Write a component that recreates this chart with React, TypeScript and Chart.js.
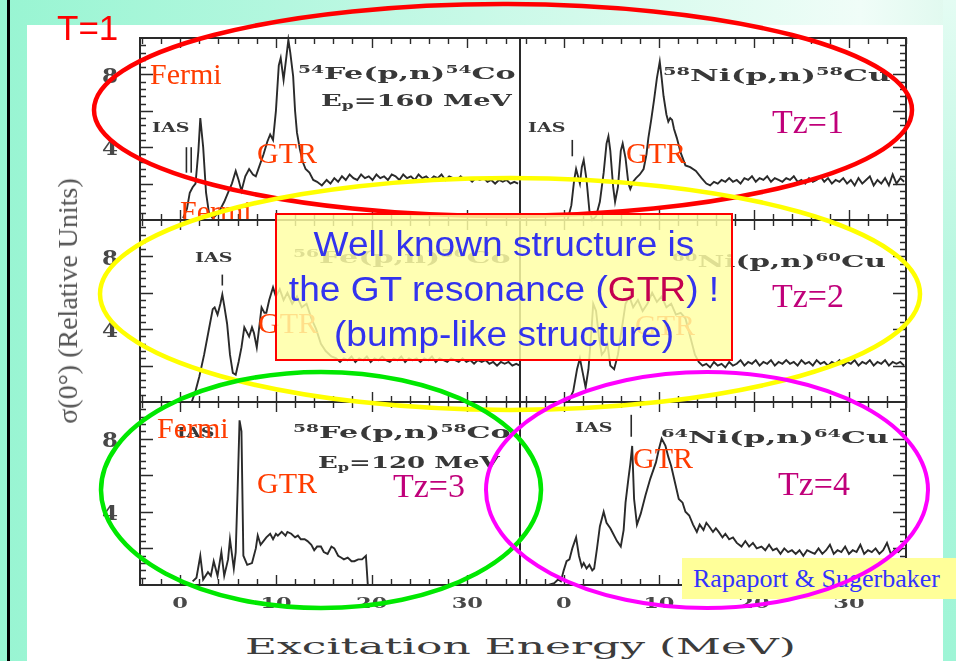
import React, { useEffect, useLayoutEffect, useRef, useState } from "react";
import { Chart, registerables } from "chart.js";
Chart.register(...registerables);

type Pt = [number, number];

// ---- spectra: [excitation energy (MeV), sigma(0 deg) relative units] ----
const FE54: Pt[] = [[0.3,0.1],[0.7,0.6],[1.0,1.5],[1.3,1.8],[1.6,2.0],[1.9,3.8],[2.1,5.6],[2.4,4.0],[2.7,1.5],[3.0,0.4],[3.4,0.1],[3.8,0.3],[4.2,0.6],[4.6,1.0],[5.0,1.5],[5.4,2.0],[5.8,2.7],[6.1,2.2],[6.4,1.6],[6.8,2.4],[7.2,2.8],[7.6,2.5],[7.9,2.4],[8.3,3.0],[8.7,3.6],[9.1,4.3],[9.4,4.7],[9.7,4.4],[10.0,6.0],[10.3,8.5],[10.5,8.9],[10.8,7.7],[11.1,9.0],[11.3,9.9],[11.5,9.2],[11.8,7.9],[12.0,6.0],[12.2,4.8],[12.5,3.9],[12.8,3.2],[13.1,2.8],[13.5,2.6],[13.9,2.2],[14.3,2.1],[14.8,1.9],[15.3,2.2],[15.7,2.0],[16.1,2.3],[16.5,2.1],[16.9,2.4],[17.3,2.2],[17.7,2.5],[18.1,2.3],[18.5,2.2],[18.9,2.5],[19.3,2.3],[19.7,2.4],[20.1,2.2],[20.5,2.5],[20.9,2.3],[21.3,2.4],[21.7,2.2],[22.1,2.5],[22.5,2.4],[22.9,2.2],[23.3,2.5],[23.7,2.3],[24.1,2.4],[24.5,2.2],[24.9,2.5],[25.3,2.3],[25.7,2.4],[26.1,2.2],[26.5,2.4],[26.9,2.3],[27.3,2.5],[27.7,2.2],[28.1,2.4],[28.5,2.3],[28.9,2.2],[29.3,2.4],[29.7,2.2],[30.1,2.3],[30.5,2.1],[30.9,2.3],[31.3,2.2],[31.7,2.3],[32.1,2.1],[32.5,2.2],[32.9,2.0],[33.3,2.2],[33.7,2.1],[34.1,2.2],[34.5,2.0],[34.9,2.1],[35.3,2.0]];

const NI58: Pt[] = [[0.4,0.0],[0.8,0.8],[1.1,2.2],[1.3,2.8],[1.5,2.4],[1.7,2.0],[1.9,2.9],[2.1,3.3],[2.4,2.2],[2.7,0.5],[3.0,0.0],[3.4,0.2],[3.8,1.0],[4.2,2.6],[4.5,4.2],[4.7,4.6],[4.9,3.8],[5.2,1.8],[5.4,1.0],[5.7,1.8],[6.0,3.8],[6.2,4.2],[6.5,3.4],[6.8,2.0],[7.0,1.7],[7.3,2.1],[7.6,2.3],[8.0,2.5],[8.4,2.8],[8.7,3.6],[8.9,4.5],[9.2,5.5],[9.5,6.6],[9.8,7.8],[10.1,8.7],[10.3,7.8],[10.5,6.8],[10.8,5.8],[11.0,5.4],[11.2,5.6],[11.4,5.5],[11.6,5.0],[11.9,4.5],[12.3,3.7],[12.8,3.0],[13.3,2.9],[13.9,2.7],[14.5,2.3],[15.0,2.0],[15.4,1.9],[15.8,2.1],[16.2,2.0],[16.6,2.2],[17.0,2.1],[17.4,2.3],[17.8,2.1],[18.2,2.2],[18.6,2.0],[19.0,2.3],[19.4,2.2],[19.8,2.4],[20.2,2.1],[20.6,2.3],[21.0,2.2],[21.4,2.4],[21.8,2.1],[22.2,2.3],[22.6,2.2],[23.0,2.1],[23.4,2.3],[23.8,2.2],[24.2,2.4],[24.6,2.1],[25.0,2.2],[25.4,2.0],[25.8,2.3],[26.2,2.1],[26.6,2.2],[27.0,2.4],[27.4,2.1],[27.8,2.3],[28.2,2.0],[28.6,2.2],[29.0,2.1],[29.4,2.3],[29.8,2.0],[30.2,2.2],[30.6,1.9],[31.0,2.3],[31.4,2.0],[31.8,2.2],[32.2,2.4],[32.6,1.9],[33.0,2.2],[33.4,2.0],[33.8,2.3],[34.2,1.9],[34.6,2.5],[35.0,2.0],[35.4,2.3],[35.8,2.1]];

const FE56: Pt[] = [[1.2,0.0],[1.6,0.6],[2.0,1.4],[2.5,2.6],[3.0,4.0],[3.4,5.1],[3.6,5.2],[3.9,4.8],[4.2,5.4],[4.4,5.9],[4.6,5.3],[4.9,4.3],[5.2,2.6],[5.5,1.6],[5.8,1.5],[6.1,2.2],[6.4,3.0],[6.7,4.1],[7.0,3.8],[7.2,3.6],[7.5,4.1],[7.7,3.8],[8.0,3.0],[8.3,4.3],[8.5,5.2],[8.8,4.9],[9.0,4.9],[9.3,5.6],[9.7,6.3],[10.0,5.8],[10.4,6.2],[10.8,5.6],[11.2,6.0],[11.7,5.4],[12.2,5.8],[12.7,5.2],[13.2,5.4],[13.7,4.6],[14.2,4.0],[14.7,3.2],[15.2,2.8],[15.8,2.5],[16.3,2.4],[16.7,2.2],[17.1,2.4],[17.5,2.3],[17.9,2.5],[18.3,2.2],[18.7,2.4],[19.1,2.3],[19.5,2.5],[19.9,2.2],[20.3,2.4],[20.7,2.3],[21.1,2.5],[21.5,2.3],[21.9,2.2],[22.3,2.4],[22.7,2.3],[23.1,2.5],[23.5,2.2],[23.9,2.4],[24.3,2.3],[24.7,2.4],[25.1,2.2],[25.5,2.4],[25.9,2.3],[26.3,2.5],[26.7,2.2],[27.1,2.4],[27.5,2.3],[27.9,2.2],[28.3,2.4],[28.7,2.3],[29.1,2.2],[29.5,2.4],[29.9,2.2],[30.3,2.3],[30.7,2.1],[31.1,2.3],[31.5,2.2],[31.9,2.3],[32.3,2.1],[32.7,2.2],[33.1,2.0],[33.5,2.2],[33.9,2.1],[34.3,2.2],[34.7,2.0],[35.1,2.1],[35.5,2.0]];

const NI60: Pt[] = [[0.5,0.0],[1.0,0.6],[1.4,1.8],[1.7,2.4],[2.0,1.6],[2.3,0.8],[2.6,1.8],[2.9,3.8],[3.1,5.4],[3.4,5.0],[3.7,3.6],[4.0,2.6],[4.3,2.8],[4.6,3.2],[4.9,2.0],[5.3,1.8],[5.7,2.6],[6.1,4.0],[6.5,5.4],[6.9,5.8],[7.3,5.2],[7.8,5.6],[8.3,5.0],[8.8,5.4],[9.3,6.0],[9.8,5.5],[10.3,5.8],[10.8,5.2],[11.3,5.4],[11.8,4.8],[12.3,4.9],[12.8,4.6],[13.3,3.6],[13.8,2.6],[14.2,2.2],[14.6,2.0],[15.0,2.1],[15.4,1.9],[15.8,2.2],[16.2,2.0],[16.6,2.1],[17.0,1.9],[17.4,2.2],[17.8,2.0],[18.2,2.1],[18.6,2.3],[19.0,2.0],[19.4,2.2],[19.8,2.1],[20.2,2.3],[20.6,2.0],[21.0,2.2],[21.4,2.1],[21.8,2.3],[22.2,2.0],[22.6,2.2],[23.0,2.1],[23.4,2.3],[23.8,2.1],[24.2,2.2],[24.6,2.0],[25.0,2.3],[25.4,2.1],[25.8,2.2],[26.2,2.0],[26.6,2.3],[27.0,2.1],[27.4,2.2],[27.8,2.0],[28.2,2.2],[28.6,2.1],[29.0,2.3],[29.4,2.0],[29.8,2.2],[30.2,2.1],[30.6,2.3],[31.0,2.0],[31.4,2.2],[31.8,2.1],[32.2,2.3],[32.6,2.0],[33.0,2.2],[33.4,2.1],[33.8,2.3],[34.2,2.0],[34.6,2.2],[35.0,2.1],[35.4,2.2],[35.8,2.0]];

const FE58: Pt[] = [[1.3,0.2],[1.7,0.4],[2.1,1.6],[2.4,0.3],[2.9,0.7],[3.2,0.5],[3.5,1.3],[3.9,0.5],[4.3,1.8],[4.6,0.5],[5.0,1.4],[5.2,2.5],[5.6,0.9],[5.8,1.8],[6.0,5.2],[6.2,9.0],[6.4,8.4],[6.6,1.6],[7.0,1.1],[7.5,1.2],[7.9,2.0],[8.1,2.7],[8.4,2.2],[8.7,2.4],[9.0,2.6],[9.4,2.8],[9.7,2.5],[10.0,2.8],[10.2,2.7],[10.6,2.9],[11.0,2.7],[11.2,2.9],[11.6,2.8],[12.0,2.6],[12.3,2.7],[12.6,2.5],[13.0,2.5],[13.3,2.4],[13.7,2.2],[14.0,1.9],[14.3,2.1],[14.7,2.1],[15.0,1.8],[15.4,1.7],[15.8,2.1],[16.1,2.0],[16.5,1.6],[16.8,1.5],[17.1,1.4],[17.5,1.5],[17.9,1.3],[18.2,1.3],[18.6,1.4],[19.0,1.4],[19.4,1.6],[19.6,0.0]];

const NI64: Pt[] = [[-1.6,0.0],[-1.0,0.1],[-0.6,0.3],[-0.3,0.2],[0.0,0.8],[0.3,1.3],[0.6,1.4],[0.9,2.0],[1.3,2.6],[1.6,1.6],[1.9,1.0],[2.1,1.2],[2.4,0.9],[2.7,1.1],[3.0,0.8],[3.2,0.9],[3.5,2.0],[3.8,3.2],[4.2,4.0],[4.5,3.4],[4.9,3.1],[5.2,2.8],[5.6,2.4],[6.0,2.1],[6.3,3.0],[6.5,4.5],[6.8,5.8],[7.0,6.6],[7.2,7.6],[7.4,4.7],[7.7,3.3],[8.1,3.9],[8.6,4.9],[9.1,5.8],[9.7,6.7],[10.0,7.4],[10.3,8.0],[10.7,7.6],[11.0,7.0],[11.3,6.5],[11.7,5.6],[12.1,4.7],[12.5,4.5],[12.8,4.0],[13.2,3.8],[13.6,3.3],[14.0,2.9],[14.3,3.3],[14.7,3.0],[15.0,3.4],[15.3,3.2],[15.7,2.9],[16.0,3.1],[16.3,2.9],[16.7,2.6],[17.0,2.8],[17.4,2.5],[17.8,2.6],[18.2,2.3],[18.7,2.1],[19.1,2.4],[19.5,2.1],[19.9,2.3],[20.3,2.0],[20.8,2.1],[21.2,1.9],[21.6,2.2],[22.0,1.9],[22.4,2.0],[22.8,1.7],[23.2,2.0],[23.6,1.8],[24.0,1.9],[24.4,1.7],[24.8,1.9],[25.2,1.6],[25.6,1.9],[26.0,1.8],[26.4,1.7],[26.8,2.0],[27.2,1.7],[27.6,1.9],[28.0,2.2],[28.4,1.7],[28.8,1.9],[29.2,1.8],[29.6,2.1],[30.0,1.7],[30.4,1.9],[30.8,1.8],[31.2,2.2],[31.6,1.7],[32.0,1.9],[32.4,1.8],[32.8,2.0],[33.2,1.7],[33.6,1.9],[34.0,2.3],[34.4,1.7],[34.8,1.9],[35.2,1.8],[35.6,2.0]];

// IAS marker strokes
const IAS_FE54_A: Pt[] = [[0.65,2.6],[0.65,4.0]];
const IAS_FE54_B: Pt[] = [[1.15,2.6],[1.15,4.0]];
const IAS_NI58: Pt[] = [[0.9,3.5],[0.9,4.4]];
const IAS_FE56: Pt[] = [[4.4,6.4],[4.4,7.0]];
const IAS_NI64: Pt[] = [[7.1,8.1],[7.1,9.3]];

const X_TICKS = [0, 10, 20, 30];
const Y_TICKS = [4, 8];
const Y_RANGE = [0, 10];
const X_RANGE = [[-4.2, 35.5], [-4.6, 36.0]];

// ---- layout (pixels) ----
const COL_X = [[140, 520], [520, 906]];
const ROW_Y = [[38, 220], [220, 402], [402, 585]];
const ML = 70, MT = 10, MR = 10, MB = 40;
const INK = "#2a2a2a";
const SCAN_FONT = '"DejaVu Serif", serif';

interface PanelCfg { data: Pt[]; marks: Pt[][]; col: number; row: number; }
const PANELS: PanelCfg[] = [
  { data: FE54, marks: [IAS_FE54_A, IAS_FE54_B], col: 0, row: 0 },
  { data: NI58, marks: [IAS_NI58], col: 1, row: 0 },
  { data: FE56, marks: [IAS_FE56], col: 0, row: 1 },
  { data: NI60, marks: [], col: 1, row: 1 },
  { data: FE58, marks: [], col: 0, row: 2 },
  { data: NI64, marks: [IAS_NI64], col: 1, row: 2 },
];

function framePlugin(col: number, row: number) {
  return {
    id: "frameTicks",
    afterDatasetsDraw(chart: any) {
      const { ctx, chartArea: a } = chart;
      const x = chart.scales.x, y = chart.scales.y;
      ctx.save();
      ctx.strokeStyle = INK;
      ctx.lineWidth = 2;
      ctx.strokeRect(a.left, a.top, a.right - a.left, a.bottom - a.top);
      ctx.lineWidth = 1.4;
      ctx.beginPath();
      for (let v = Math.ceil(x.min / 2) * 2; v <= x.max; v += 2) {
        const px = Math.round(x.getPixelForValue(v)) + 0.5;
        const len = v % 10 === 0 ? 10 : 6;
        ctx.moveTo(px, a.bottom); ctx.lineTo(px, a.bottom - len);
        ctx.moveTo(px, a.top); ctx.lineTo(px, a.top + len);
      }
      for (let i = 1; i < 25; i++) {
        const py = Math.round(y.getPixelForValue(i * 0.4)) + 0.5;
        const len = i % 5 === 0 ? 13 : 6;
        if (col === 0) { ctx.moveTo(a.left, py); ctx.lineTo(a.left + len, py); }
        else { ctx.moveTo(a.right, py); ctx.lineTo(a.right - len, py); }
      }
      ctx.stroke();
      ctx.fillStyle = "#484848";
      if (row === 2) {
        ctx.font = "bold 15px " + SCAN_FONT;
        ctx.textAlign = "center";
        ctx.textBaseline = "alphabetic";
        X_TICKS.forEach((v) => {
          ctx.save();
          ctx.translate(x.getPixelForValue(v), a.bottom + 23);
          ctx.scale(1.5, 1);
          ctx.fillText(String(v), 0, 0);
          ctx.restore();
        });
      }
      if (col === 0) {
        ctx.font = "bold 20px " + SCAN_FONT;
        ctx.textAlign = "right";
        ctx.textBaseline = "middle";
        Y_TICKS.forEach((v) => {
          ctx.save();
          ctx.translate(a.left - 22, y.getPixelForValue(v) + 3);
          ctx.scale(1.15, 1);
          ctx.fillText(String(v), 0, 0);
          ctx.restore();
        });
      }
      ctx.restore();
    },
  };
}

function SpectrumPanel({ cfg }: { cfg: PanelCfg }) {
  const ref = useRef<HTMLCanvasElement>(null);
  const [x0, x1] = COL_X[cfg.col];
  const [y0, y1] = ROW_Y[cfg.row];
  const W = x1 - x0 + ML + MR;
  const H = y1 - y0 + MT + MB;
  useEffect(() => {
    const range = X_RANGE[cfg.col];
    const toXY = (pts: Pt[]) => pts.map(([e, s]) => ({ x: e, y: s }));
    const chart = new Chart(ref.current as HTMLCanvasElement, {
      type: "line",
      data: {
        datasets: [
          { data: toXY(cfg.data), borderColor: INK, borderWidth: 1.9, pointRadius: 0, tension: 0, fill: false, clip: 4 } as any,
          ...cfg.marks.map((m) => ({ data: toXY(m), borderColor: INK, borderWidth: 1.6, pointRadius: 0, fill: false } as any)),
        ],
      },
      options: {
        animation: false,
        responsive: false,
        events: [],
        layout: { padding: { left: 0, top: MT, right: MR, bottom: 0 } },
        plugins: { legend: { display: false }, tooltip: { enabled: false } },
        scales: {
          x: {
            type: "linear", min: range[0], max: range[1],
            grid: { display: false }, border: { display: false }, ticks: { display: false },
            afterFit: (s: any) => { s.height = MB; },
          },
          y: {
            type: "linear", min: Y_RANGE[0], max: Y_RANGE[1],
            grid: { display: false }, border: { display: false }, ticks: { display: false },
            afterFit: (s: any) => { s.width = ML; },
          },
        },
      } as any,
      plugins: [framePlugin(cfg.col, cfg.row)],
    });
    return () => chart.destroy();
  }, []);
  return (
    <canvas
      ref={ref}
      width={W}
      height={H}
      style={{ position: "absolute", left: x0 - ML, top: y0 - MT, width: W, height: H }}
    />
  );
}

const FONTS: Record<string, { family: string; k: number }> = {
  scan: { family: SCAN_FONT, k: 0.846 },
  serif: { family: '"Liberation Serif", serif', k: 0.837 },
  sans: { family: '"Liberation Sans", Arial, sans-serif', k: 0.847 },
};

// Text placed by its baseline; optionally stretched horizontally to a target width.
function T(props: {
  x: number; base: number; size: number; font: string; color: string;
  bold?: boolean; w?: number; children: React.ReactNode;
}) {
  const f = FONTS[props.font];
  const ref = useRef<HTMLDivElement>(null);
  const [sx, setSx] = useState(1);
  useLayoutEffect(() => {
    if (props.w && ref.current && ref.current.offsetWidth) setSx(props.w / ref.current.offsetWidth);
  }, []);
  return (
    <div
      ref={ref}
      style={{
        position: "absolute", left: props.x, top: props.base - f.k * props.size,
        fontFamily: f.family, fontSize: props.size, lineHeight: 1, color: props.color,
        fontWeight: props.bold ? "bold" : "normal", whiteSpace: "nowrap",
        transform: `scaleX(${sx})`, transformOrigin: "0 0",
      }}
    >
      {props.children}
    </div>
  );
}

const Sup = ({ c }: { c: string }) => (
  <span style={{ fontSize: "0.62em", position: "relative", top: "-0.55em" }}>{c}</span>
);
const Sub = ({ c }: { c: string }) => (
  <span style={{ fontSize: "0.62em", position: "relative", top: "0.35em" }}>{c}</span>
);

const RED_ORANGE = "#ff3c00";
const TZ = "#c0007a";
const LABEL = "#383838";

function Reaction({ x, base, w, a, t, b, r }: { x: number; base: number; w: number; a: string; t: string; b: string; r: string }) {
  return (
    <T x={x} base={base} size={17} font="scan" color={LABEL} bold w={w}>
      <Sup c={a} />{t}(p,n)<Sup c={b} />{r}
    </T>
  );
}
function Ep({ x, base, w, v }: { x: number; base: number; w: number; v: string }) {
  return (
    <T x={x} base={base} size={17} font="scan" color={LABEL} bold w={w}>
      E<Sub c="p" />={v} MeV
    </T>
  );
}
const Ias = ({ x, base }: { x: number; base: number }) => (
  <T x={x} base={base} size={12} font="scan" color={LABEL} bold w={38}>IAS</T>
);
const Red = ({ x, base, s }: { x: number; base: number; s: string }) => (
  <T x={x} base={base} size={30} font="serif" color={RED_ORANGE}>{s}</T>
);
const Tz = ({ x, base, s }: { x: number; base: number; s: string }) => (
  <T x={x} base={base} size={34} font="serif" color={TZ}>{s}</T>
);

function BoxLine({ base, children }: { base: number; children: React.ReactNode }) {
  const size = 35;
  return (
    <div
      style={{
        position: "absolute", left: 275, width: 458, top: base - FONTS.sans.k * size,
        textAlign: "center", fontFamily: FONTS.sans.family, fontSize: size, lineHeight: 1,
        color: "#3333ee", whiteSpace: "nowrap", transform: "scaleX(1.06)", transformOrigin: "50% 0",
      }}
    >
      {children}
    </div>
  );
}

export default function App() {
  return (
    <div
      style={{
        position: "fixed", left: 0, top: 0, width: 956, height: 661, overflow: "hidden",
        background: "linear-gradient(90deg, #98f5d2 0%, #b4f7df 30%, #dcfbef 70%, #f0fdf8 90%, #dff9ee 100%)",
      }}
    >
      <div style={{ position: "absolute", left: 943, top: 0, width: 13, height: 661, background: "linear-gradient(180deg, #e4fcf3 0%, #b8f7e0 40%, #9ef5d6 100%)" }} />
      <div style={{ position: "absolute", left: 27, top: 25, width: 916, height: 636, background: "#ffffff" }} />
      <div style={{ position: "absolute", left: 7, top: 0, width: 3, height: 661, background: "#000" }} />

      {PANELS.map((p, i) => (
        <SpectrumPanel key={i} cfg={p} />
      ))}

      {/* axis titles */}
      <T x={245} base={654} size={23} font="scan" color="#3c3c3c" w={550}>Excitation Energy (MeV)</T>
      <div
        style={{
          position: "absolute", left: 68, top: 301, transform: "translate(-50%, -50%) rotate(-90deg)",
          fontFamily: FONTS.serif.family, fontSize: 28, lineHeight: 1, color: "#555", whiteSpace: "nowrap",
        }}
      >
        σ(0°) (Relative Units)
      </div>

      {/* panel labels */}
      <Reaction x={298} base={79} w={217} a="54" t="Fe" b="54" r="Co" />
      <Ep x={321} base={106} w={191} v="160" />
      <Reaction x={663} base={81} w={227} a="58" t="Ni" b="58" r="Cu" />
      <Reaction x={293} base={263} w={217} a="56" t="Fe" b="56" r="Co" />
      <Reaction x={672} base={267} w={213} a="60" t="Ni" b="60" r="Cu" />
      <Reaction x={293} base={438} w={217} a="58" t="Fe" b="58" r="Co" />
      <Ep x={318} base={468} w={182} v="120" />
      <Reaction x={661} base={443} w={227} a="64" t="Ni" b="64" r="Cu" />

      <Ias x={152} base={132} />
      <Ias x={528} base={132} />
      <Ias x={195} base={262} />
      <Ias x={177} base={437} />
      <Ias x={575} base={432} />

      {/* slide annotations */}
      <T x={57} base={40} size={35} font="sans" color="#ff0000">T=1</T>
      <Red x={150} base={84} s="Fermi" />
      <div style={{ position: "absolute", left: 0, top: 0, width: 956, height: 219, overflow: "hidden" }}>
        <Red x={180} base={221} s="Fermi" />
      </div>
      <Red x={157} base={438} s="Fermi" />
      <Red x={257} base={163} s="GTR" />
      <Red x={626} base={163} s="GTR" />
      <Red x={258} base={333} s="GTR" />
      <Red x={635} base={335} s="GTR" />
      <Red x={257} base={493} s="GTR" />
      <Red x={633} base={468} s="GTR" />
      <Tz x={772} base={133} s="Tz=1" />
      <Tz x={772} base={307} s="Tz=2" />
      <Tz x={393} base={497} s="Tz=3" />
      <Tz x={778} base={495} s="Tz=4" />

      <div style={{ position: "absolute", left: 682, top: 558, width: 274, height: 41, background: "#ffff99" }} />
      <T x={693} base={588} size={26} font="serif" color="#3333ff">Rapaport &amp; Sugerbaker</T>

      <svg width={956} height={661} style={{ position: "absolute", left: 0, top: 0 }}>
        <ellipse cx={503} cy={110} rx={409} ry={106} fill="none" stroke="#ff0000" strokeWidth={4.5} />
        <ellipse cx={510} cy={294} rx={410} ry={116} fill="none" stroke="#ffff00" strokeWidth={4.5} />
        <ellipse cx={321} cy={490} rx={220} ry={118} fill="none" stroke="#00e800" strokeWidth={4.5} />
        <ellipse cx={707} cy={490} rx={221} ry={118} fill="none" stroke="#ff00ff" strokeWidth={4} />
      </svg>

      <div
        style={{
          position: "absolute", left: 275, top: 213, width: 458, height: 148, boxSizing: "border-box",
          background: "rgba(255,255,165,0.84)", border: "2px solid #ff0000",
        }}
      />
      <BoxLine base={256}>Well known structure is</BoxLine>
      <BoxLine base={301}>
        the GT resonance (<span style={{ color: "#c4004f" }}>GTR</span>) !
      </BoxLine>
      <BoxLine base={346}>(bump-like structure)</BoxLine>
    </div>
  );
}
